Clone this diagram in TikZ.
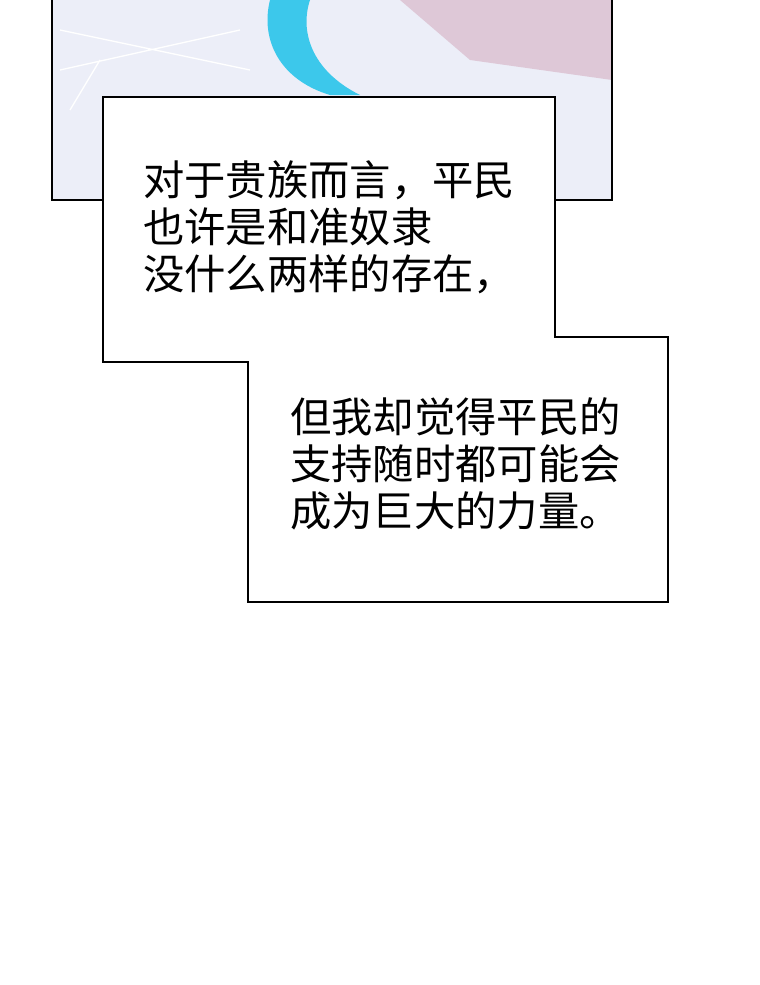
\documentclass[tikz,border=0pt]{standalone}
\usepackage{fontspec}
\newfontfamily\cjk{Noto Sans CJK SC}
\definecolor{panelbg}{RGB}{236,238,248}
\definecolor{glow}{RGB}{60,200,235}
\definecolor{sleeve}{RGB}{222,200,215}
\tikzset{
  frame/.style={draw=black, line width=2.2pt},
  speech/.style={font=\cjk\fontsize{31}{35.5}\selectfont, align=left, anchor=north west, inner sep=0pt}
}
\begin{document}
\begin{tikzpicture}[x=0.75pt,y=-0.75pt]
 \useasboundingbox (0,0) rectangle (760,985);
 % top panel
 \fill[panelbg] (52,0) rectangle (612,200);
 \fill[sleeve] (400,0) -- (612,0) -- (612,80) -- (470,60) -- cycle;
 \fill[glow] (270,0) .. controls (260,40) and (280,80) .. (330,95) -- (360,95) .. controls (310,70) and (300,30) .. (310,0) -- cycle;
 \draw[white, line width=1pt] (60,30) -- (250,70) (60,70) -- (240,30) (70,110) -- (100,60);
 \draw[frame] (52,0) -- (52,200) -- (612,200) -- (612,0);
 % caption boxes
 \draw[frame, fill=white] (103,97) -- (555,97) -- (555,337) -- (668,337)
   -- (668,602) -- (248,602) -- (248,362) -- (103,362) -- cycle;
 \node[speech] (first) at (143,160) {对于贵族而言，平民\\也许是和准奴隶\\没什么两样的存在，};
 \node[speech] (second) at (290,397) {但我却觉得平民的\\支持随时都可能会\\成为巨大的力量。};
\end{tikzpicture}
\end{document}
